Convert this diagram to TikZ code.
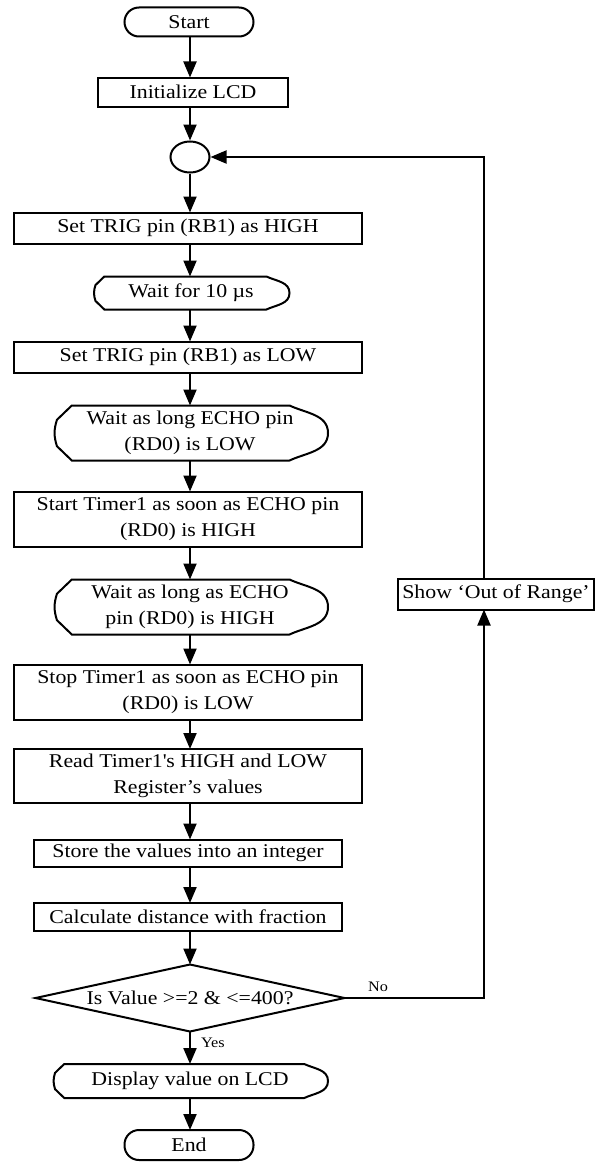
\documentclass[tikz,border=0pt]{standalone}
\usepackage{fontspec}
\setmainfont{Liberation Serif}[FakeStretch=1.12]
\usetikzlibrary{arrows.meta,shapes.geometric,calc}
\tikzset{
  ln/.style={line width=2pt, line join=miter},
  arr/.style={ln, -{Triangle[length=16pt,width=13pt]}},
  base/.style={inner sep=0pt, outer sep=0pt, align=center, font=\fontsize{19.5}{25.5}\selectfont},
  procbox/.style={base, draw, ln, rectangle},
  termbox/.style={base, draw, ln, rectangle, rounded corners=14.5pt, minimum width=129pt, minimum height=29pt},
  plain/.style={base, rectangle},
  connector/.style={ellipse, draw, ln, minimum width=39pt, minimum height=31pt, inner sep=0pt},
  lbl/.style={inner sep=0pt, font=\fontsize{14.5}{16}\selectfont}
}
\newcommand\dispshape[1]{%
  \draw[ln] let \p1=(#1.north west), \p2=(#1.south east), \n1={\y1-\y2} in
    (\x1+0.36*\n1,\y1) -- (\x2-0.7*\n1,\y1) to[out=-25,in=90] (\x2,0.5*\y1+0.5*\y2)
    to[out=-90,in=25] (\x2-0.7*\n1,\y2) -- (\x1+0.36*\n1,\y2)
    -- (\x1+0.09*\n1,\y2+0.26*\n1) to[out=108,in=-108] (\x1+0.09*\n1,\y1-0.26*\n1) -- cycle;}
\newcommand\diamondshape[1]{%
  \draw[ln] (#1.west) -- (#1.north) -- (#1.east) -- (#1.south) -- cycle;}
\begin{document}
\begin{tikzpicture}[x=1pt,y=1pt]
\useasboundingbox (0,0) rectangle (595,-1164);
\node[termbox] (start) at (189,-22) {Start};
\node[procbox, minimum width=190pt, minimum height=29pt] (init) at (193,-92) {Initialize LCD};
\node[connector] (circ) at (190,-157) {};
\node[procbox, minimum width=348pt, minimum height=31pt] (set1) at (188,-228) {Set TRIG pin (RB1) as HIGH};
\node[plain, minimum width=197pt, minimum height=33pt] (wait1) at (191,-293) {Wait for 10 µs};
\node[procbox, minimum width=348pt, minimum height=31pt] (set2) at (188,-357) {Set TRIG pin (RB1) as LOW};
\node[plain, minimum width=276pt, minimum height=55pt] (wait2) at (190,-433) {Wait as long ECHO pin\\(RD0) is LOW};
\node[procbox, minimum width=348pt, minimum height=55pt] (tstart) at (188,-519) {Start Timer1 as soon as ECHO pin\\(RD0) is HIGH};
\node[plain, minimum width=276pt, minimum height=55pt] (wait3) at (190,-607) {Wait as long as ECHO\\pin (RD0) is HIGH};
\node[procbox, minimum width=348pt, minimum height=55pt] (tstop) at (188,-692) {Stop Timer1 as soon as ECHO pin\\(RD0) is LOW};
\node[procbox, minimum width=348pt, minimum height=54pt] (read) at (188,-776) {Read Timer1\textquotesingle s HIGH and LOW\\Register’s values};
\node[procbox, minimum width=308pt, minimum height=27pt] (store) at (188,-853) {Store the values into an integer};
\node[procbox, minimum width=308pt, minimum height=28pt] (calc) at (188,-917) {Calculate distance with fraction};
\node[plain, minimum width=309pt, minimum height=67pt] (dec) at (190,-998) {Is Value >=2 \& <=400?};
\node[plain, minimum width=276pt, minimum height=34pt] (disp) at (190,-1081) {Display value on LCD};
\node[termbox, minimum height=30pt] (end) at (189,-1145) {End};
\node[procbox, minimum width=196pt, minimum height=31pt] (show) at (496,-594) {Show ‘Out of Range’};
\dispshape{wait1}
\dispshape{wait2}
\dispshape{wait3}
\dispshape{disp}
\diamondshape{dec}
\coordinate (lx) at (484,0);
\coordinate (cx) at (190,0);
\draw[arr] (cx |- start.south) -- (cx |- init.north);
\draw[arr] (cx |- init.south) -- (circ);
\draw[arr] (circ) -- (cx |- set1.north);
\draw[arr] (cx |- set1.south) -- (cx |- wait1.north);
\draw[arr] (cx |- wait1.south) -- (cx |- set2.north);
\draw[arr] (cx |- set2.south) -- (cx |- wait2.north);
\draw[arr] (cx |- wait2.south) -- (cx |- tstart.north);
\draw[arr] (cx |- tstart.south) -- (cx |- wait3.north);
\draw[arr] (cx |- wait3.south) -- (cx |- tstop.north);
\draw[arr] (cx |- tstop.south) -- (cx |- read.north);
\draw[arr] (cx |- read.south) -- (cx |- store.north);
\draw[arr] (cx |- store.south) -- (cx |- calc.north);
\draw[arr] (cx |- calc.south) -- (dec);
\draw[arr] (dec) -- node[lbl, right=10pt, pos=0.35] {Yes} (cx |- disp.north);
\draw[arr] (cx |- disp.south) -- (cx |- end.north);
\draw[arr] (dec.east) -| node[lbl, pos=0.12, above=5pt] {No} (lx |- show.south);
\draw[arr] (lx |- show.north) |- (circ.east);
\end{tikzpicture}
\end{document}
